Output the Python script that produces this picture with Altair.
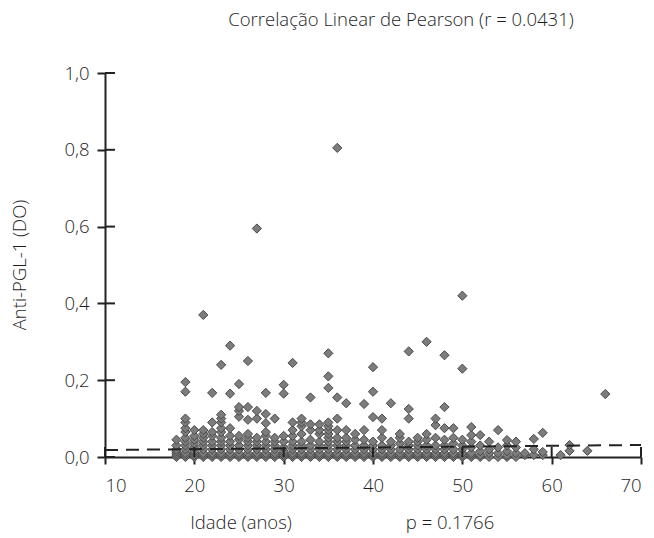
import altair as alt
import pandas as pd

# Age (years) -> Anti-PGL-1 optical density readings
ages = [18, 19, 20, 21, 22, 23, 24, 25, 26, 27, 28, 29, 30, 31, 32, 33, 34, 35, 36, 37,
        38, 39, 40, 41, 42, 43, 44, 45, 46, 47, 48, 49, 50, 51, 52, 53, 54, 55, 56, 57,
        58, 59, 61, 62, 64, 66]
values = [
    [0.0, 0.005, 0.01, 0.015, 0.02, 0.03, 0.045],
    [0.0, 0.005, 0.01, 0.02, 0.03, 0.04, 0.05, 0.065, 0.075, 0.09, 0.1, 0.17, 0.195],
    [0.0, 0.005, 0.01, 0.015, 0.025, 0.035, 0.045, 0.055, 0.07],
    [0.0, 0.005, 0.01, 0.02, 0.03, 0.04, 0.05, 0.06, 0.07, 0.37],
    [0.0, 0.005, 0.01, 0.02, 0.03, 0.04, 0.055, 0.065, 0.09, 0.167],
    [0.0, 0.005, 0.01, 0.02, 0.03, 0.04, 0.05, 0.065, 0.075, 0.09, 0.1, 0.11, 0.24],
    [0.0, 0.005, 0.01, 0.02, 0.03, 0.04, 0.055, 0.075, 0.165, 0.29],
    [0.0, 0.005, 0.01, 0.02, 0.03, 0.045, 0.055, 0.105, 0.12, 0.13, 0.19],
    [0.0, 0.005, 0.01, 0.02, 0.03, 0.04, 0.05, 0.06, 0.097, 0.13, 0.25],
    [0.0, 0.005, 0.01, 0.02, 0.03, 0.04, 0.05, 0.1, 0.12, 0.595],
    [0.0, 0.005, 0.01, 0.02, 0.03, 0.04, 0.055, 0.065, 0.088, 0.112, 0.167],
    [0.0, 0.005, 0.01, 0.02, 0.03, 0.04, 0.05, 0.1],
    [0.0, 0.005, 0.01, 0.015, 0.025, 0.04, 0.055, 0.165, 0.188],
    [0.0, 0.005, 0.01, 0.02, 0.03, 0.04, 0.055, 0.07, 0.09, 0.245],
    [0.0, 0.005, 0.01, 0.02, 0.03, 0.04, 0.06, 0.08, 0.09, 0.1],
    [0.0, 0.005, 0.01, 0.02, 0.03, 0.045, 0.07, 0.085, 0.155],
    [0.0, 0.005, 0.01, 0.02, 0.03, 0.04, 0.06, 0.07, 0.085],
    [0.0, 0.005, 0.01, 0.02, 0.03, 0.04, 0.05, 0.06, 0.07, 0.08, 0.09, 0.18, 0.21, 0.27],
    [0.0, 0.005, 0.01, 0.02, 0.03, 0.04, 0.05, 0.07, 0.1, 0.155, 0.805],
    [0.0, 0.005, 0.01, 0.02, 0.03, 0.04, 0.05, 0.07, 0.14],
    [0.0, 0.005, 0.01, 0.02, 0.03, 0.045, 0.06],
    [0.0, 0.005, 0.01, 0.02, 0.03, 0.045, 0.07, 0.138],
    [0.0, 0.005, 0.01, 0.02, 0.03, 0.04, 0.104, 0.17, 0.234],
    [0.0, 0.005, 0.01, 0.02, 0.03, 0.05, 0.07, 0.1],
    [0.0, 0.005, 0.01, 0.02, 0.03, 0.04, 0.14],
    [0.0, 0.005, 0.01, 0.02, 0.035, 0.05, 0.06],
    [0.0, 0.005, 0.01, 0.02, 0.03, 0.04, 0.1, 0.125, 0.275],
    [0.0, 0.005, 0.01, 0.02, 0.03, 0.04, 0.05],
    [0.0, 0.005, 0.01, 0.02, 0.03, 0.045, 0.06, 0.3],
    [0.0, 0.005, 0.01, 0.02, 0.03, 0.05, 0.083, 0.1],
    [0.0, 0.005, 0.01, 0.02, 0.03, 0.045, 0.075, 0.13, 0.265],
    [0.0, 0.005, 0.01, 0.02, 0.035, 0.05, 0.075],
    [0.0, 0.005, 0.01, 0.02, 0.03, 0.045, 0.23, 0.42],
    [0.0, 0.005, 0.01, 0.025, 0.04, 0.057, 0.078],
    [0.0, 0.005, 0.015, 0.03, 0.057],
    [0.0, 0.01, 0.02, 0.04],
    [0.0, 0.01, 0.025, 0.07],
    [0.0, 0.005, 0.015, 0.03, 0.044],
    [0.0, 0.01, 0.025, 0.04],
    [0.005, 0.01],
    [0.005, 0.02, 0.047],
    [0.005, 0.013, 0.063],
    [0.005],
    [0.016, 0.031],
    [0.016],
    [0.164],
]

# Regression line end points
reg_x = [10, 70]
reg_y = [0.0182, 0.0313]

x_ticks = [10, 20, 30, 40, 50, 60, 70]
y_ticks = [0.0, 0.2, 0.4, 0.6, 0.8, 1.0]

title_text = "Correlação Linear de Pearson (r = 0.0431)"
x_title = "Idade (anos)"
p_text = "p = 0.1766"
y_title = "Anti-PGL-1 (DO)"

FONT = "Open Sans"
FW = 300
FS = 18.5
TXT = "#1e1e1e"
AX = "#222222"

rows = [{"idade": a, "do": v} for a, vs in zip(ages, values) for v in vs]
pts_df = pd.DataFrame(rows)
reg_df = pd.DataFrame({"idade": reg_x, "do": reg_y})
xt_df = pd.DataFrame({"t": x_ticks})
yt_df = pd.DataFrame({"t": y_ticks})

W, H = 536, 384
xscale = alt.Scale(domain=[10, 70], nice=False, zero=False)
yscale = alt.Scale(domain=[0, 1], nice=False)

x_axis = alt.Axis(values=x_ticks, title=None, grid=False, domainColor=AX, domainWidth=2,
                  tickColor=AX, tickWidth=2, tickSize=7, labelPadding=12,
                  labelFont=FONT, labelFontWeight=FW, labelFontSize=FS, labelColor=TXT)
y_axis = alt.Axis(values=y_ticks, title=None, grid=False, domainColor=AX, domainWidth=2,
                  tickColor=AX, tickWidth=2, tickSize=8, labelPadding=8,
                  labelFont=FONT, labelFontWeight=FW, labelFontSize=FS, labelColor=TXT,
                  labelExpr="replace(format(datum.value, '.1f'), '.', ',')")

points = alt.Chart(pts_df).mark_point(
    shape="diamond", filled=True, size=85, fill="#7c7c7c", stroke="#4a4a4a",
    strokeWidth=1, opacity=1
).encode(
    x=alt.X("idade:Q", scale=xscale, axis=x_axis),
    y=alt.Y("do:Q", scale=yscale, axis=y_axis),
)

reg = alt.Chart(reg_df).mark_line(color=AX, strokeWidth=2, strokeDash=[13, 8]).encode(
    x=alt.X("idade:Q", scale=xscale),
    y=alt.Y("do:Q", scale=yscale),
)

xin = alt.Chart(xt_df).mark_rule(color=AX, strokeWidth=2).encode(
    x=alt.X("t:Q", scale=xscale), y=alt.value(H), y2=alt.value(H - 10)
)
yin = alt.Chart(yt_df).mark_rule(color=AX, strokeWidth=2).encode(
    y=alt.Y("t:Q", scale=yscale), x=alt.value(0), x2=alt.value(10)
)

def label(txt, x, y, angle=0):
    return alt.Chart(pd.DataFrame({"s": [txt]})).mark_text(
        font=FONT, fontSize=FS, fontWeight=FW, color=TXT, align="center",
        baseline="middle", angle=angle
    ).encode(text="s:N", x=alt.value(x), y=alt.value(y))

chart = alt.layer(
    points, reg, xin, yin,
    label(title_text, 296, -53),
    label(x_title, 136, 450),
    label(p_text, 345, 450),
    label(y_title, -85, 192, angle=270),
).properties(
    width=W, height=H,
    autosize=alt.AutoSizeParams(type="none"),
    padding={"left": 105, "top": 73, "right": 13, "bottom": 81},
    background="white",
).configure_view(stroke=None)

chart.save("out.html", embed_options={"renderer": "svg", "actions": False})
